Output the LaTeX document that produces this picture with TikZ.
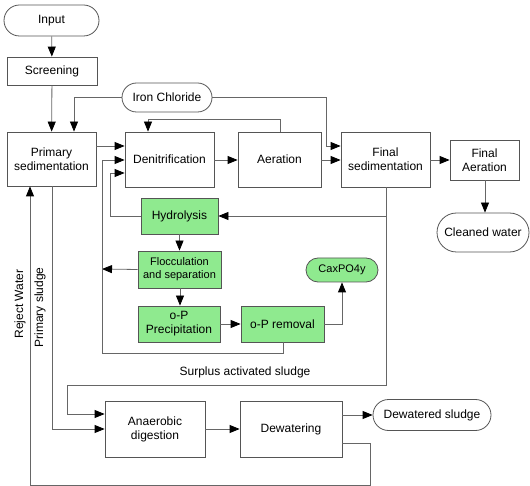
\documentclass[tikz,border=0pt]{standalone}
\usepackage{fontspec}
\setmainfont{Liberation Sans}
\usetikzlibrary{arrows.meta,shapes.misc}
\definecolor{lnc}{HTML}{666666}
\definecolor{bdc}{HTML}{555555}
\definecolor{grn}{HTML}{8FEA8F}
\tikzset{
  box/.style={draw=bdc,line width=0.8pt,inner sep=0pt,align=center,font=\fontsize{12}{14}\selectfont},
  term/.style={box,rounded rectangle},
  gbox/.style={box,fill=grn},
  con/.style={draw=lnc,line width=0.8pt},
  arr/.style={con,-{Triangle[length=10pt,width=8pt,color=black]}},
  lab/.style={font=\fontsize{12}{14}\selectfont,inner sep=0pt}
}
\begin{document}
\begin{tikzpicture}[x=1pt,y=-1pt]
\useasboundingbox (0,0) rectangle (530,486);
% nodes
\node[term,minimum width=95pt,minimum height=31pt] (input) at (51.5,20.5) {Input};
\node[box,minimum width=90pt,minimum height=28pt] (screen) at (52,71) {Screening};
\node[term,minimum width=90pt,minimum height=29pt] (iron) at (167,97.5) {Iron Chloride};
\node[box,minimum width=89pt,minimum height=54pt] (prim) at (51.5,159) {Primary\\sedimentation};
\node[box,minimum width=89pt,minimum height=55pt] (denit) at (169.5,159.5) {Denitrification};
\node[box,minimum width=83pt,minimum height=55pt] (aer) at (279.5,159.5) {Aeration};
\node[box,minimum width=89pt,minimum height=55pt] (fsed) at (385.5,159.5) {Final\\sedimentation};
\node[box,minimum width=69pt,minimum height=40pt] (faer) at (484.5,160) {Final\\Aeration};
\node[term,minimum width=92pt,minimum height=39pt] (clean) at (483,232.5) {Cleaned water};
\node[gbox,minimum width=77pt,minimum height=36pt] (hyd) at (179.5,216) {Hydrolysis};
\node[gbox,minimum width=83pt,minimum height=37pt,font=\fontsize{11}{13}\selectfont] (floc) at (179.5,269.5) {Flocculation\\and separation};
\node[gbox,minimum width=82pt,minimum height=36pt] (prec) at (179,324) {o-P\\Precipitation};
\node[gbox,minimum width=83pt,minimum height=36pt] (rem) at (282.5,324) {o-P removal};
\node[term,fill=grn,minimum width=72pt,minimum height=24pt,font=\fontsize{11}{13}\selectfont] (caxpo) at (342,270) {CaxPO4y};
\node[box,minimum width=100pt,minimum height=56pt] (anaer) at (155,429) {Anaerobic\\digestion};
\node[box,minimum width=102pt,minimum height=56pt] (dew) at (291,429) {Dewatering};
\node[term,minimum width=118pt,minimum height=31pt] (dsl) at (432,415) {Dewatered sludge};
\node[lab] (surplus) at (245,372) {Surplus activated sludge};
\node[lab,rotate=90] (reject) at (20,304) {Reject Water};
\node[lab,rotate=90] (psl) at (40,307.5) {Primary sludge};
% helper coordinates
\coordinate (ironR) at (326,97.5);
\coordinate (ironL) at (74,97.5);
\coordinate (aerUp) at (280,119);
\coordinate (denUp) at (148,119);
\coordinate (fsedDn) at (386,216);
\coordinate (fsedLow) at (386,385);
\coordinate (surpL) at (67,385);
\coordinate (hydL) at (110,216);
\coordinate (retX) at (102,269);
\coordinate (remDn) at (283,353);
\coordinate (retL) at (102,353);
\coordinate (dewR) at (370,443);
\coordinate (dewRB) at (370,485);
\coordinate (rejB) at (30,485);
% connectors
\draw[arr] (input) -- (screen);
\draw[arr] (screen) -- (prim);
\draw[arr] (iron.west) -- (ironL) -- (ironL |- prim.north);
\draw[arr] (iron.east) -- (ironR) -- (326,146) -- (fsed.west |- 0,146);
\draw[arr] (prim.east |- 0,146) -- (denit.west |- 0,146);
\draw[arr] (denit.east |- 0,160) -- (aer.west |- 0,160);
\draw[arr] (aer.north -| aerUp) -- (aerUp) -- (denUp) -- (denUp |- denit.north);
\draw[arr] (aer.east |- 0,160) -- (fsed.west |- 0,160);
\draw[arr] (fsed.east |- 0,160) -- (faer.west |- 0,160);
\draw[arr] (faer.south -| 485,0) -- (clean.north -| 485,0);
\draw[arr] (fsed.south -| fsedDn) -- (fsedDn) -- (hyd.east);
\draw[arr] (fsedDn) -- (fsedLow) -- (surpL) -- (surpL |- 0,414) -- (anaer.west |- 0,414);
\draw[arr] (hyd.west) -- (hydL) -- (hydL |- 0,173) -- (denit.west |- 0,173);
\draw[arr] (hyd) -- (floc);
\draw[arr] (floc.west) -- (retX);
\draw[arr] (floc.south -| 180,0) -- (prec.north -| 180,0);
\draw[arr] (prec) -- (rem);
\draw[arr] (rem.east) -| (caxpo.south);
\draw[arr] (rem.south -| remDn) -- (remDn) -- (retL) -- (retL |- 0,160) -- (denit.west |- 0,160);
\draw[arr] (prim.south -| 52,0) -- (52,429) -- (anaer.west |- 0,429);
\draw[arr] (anaer) -- (dew);
\draw[arr] (dew.east |- 0,415) -- (dsl.west |- 0,415);
\draw[arr] (dew.east |- dewR) -- (dewR) -- (dewRB) -- (rejB) -- (rejB |- prim.south);
\end{tikzpicture}
\end{document}
